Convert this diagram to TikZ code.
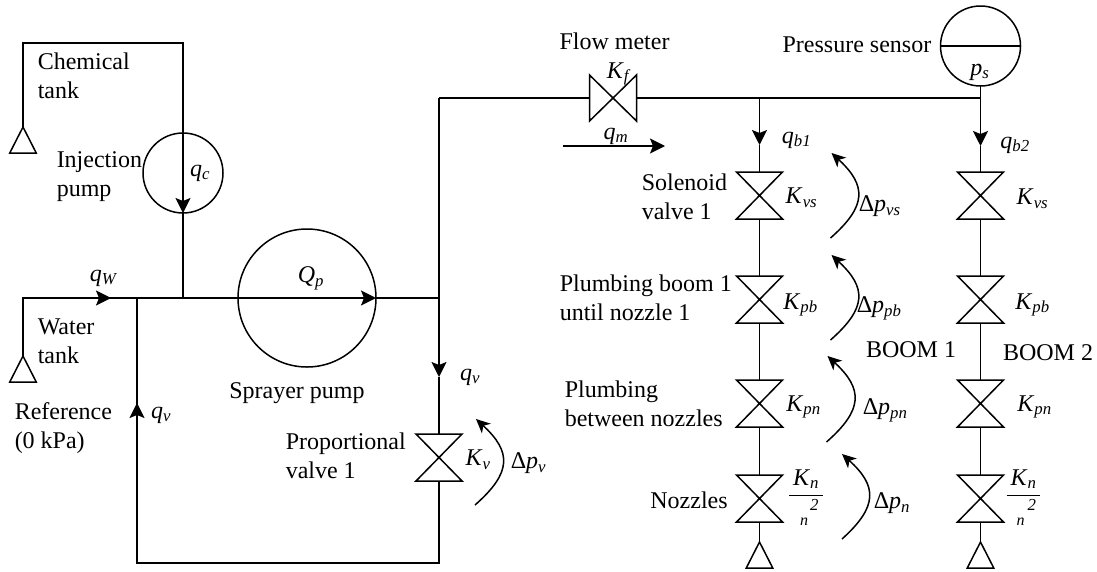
\documentclass[tikz,border=0pt]{standalone}
\usepackage{amsmath}
\usepackage{fontspec}
\setmainfont{Liberation Serif}
\usetikzlibrary{shapes.geometric,arrows.meta}
\newcommand{\lbl}[2]{\textit{#1}$_{\text{\itshape #2}}$}
\newcommand{\halfk}{$\dfrac{\hspace{4pt}\text{\lbl{K}{n}}\hspace{4pt}}{\hspace{0.7em}\smash{\raisebox{8.5pt}{$\scriptstyle\text{\itshape 2}$}}}$}
\newcommand{\valve}[3][]{%
  \node[valvebox,#1] (#2) at (#3) {};
  \draw (#2.north west) -- (#2.south east) -- (#2.south west) -- (#2.north east) -- cycle;}
\tikzset{
  valvebox/.style={rectangle,minimum width=46,minimum height=47,inner sep=0,outer sep=0},
  pumpbox/.style={circle,draw,inner sep=0,outer sep=0},
  groundbox/.style={isosceles triangle,isosceles triangle apex angle=54,shape border rotate=90,draw,
    minimum height=26,inner sep=0,outer sep=0,anchor=apex},
  flowarrow/.style={-{Stealth[length=15pt,width=15pt,inset=3pt]}},
  droparrow/.style={-{Stealth[length=14pt,width=13pt,inset=4pt]},bend right=48,looseness=1.45},
  txt/.style={align=left,anchor=west}
}
\begin{document}
\begin{tikzpicture}[x=1pt,y=-1pt,line width=1.5pt,every node/.style={inner sep=0,font=\fontsize{24}{29}\selectfont}]
  \useasboundingbox (0,0) rectangle (1097,571);
  % chemical line
  \node[groundbox] (gchem) at (23,127) {};
  \coordinate (ctop) at (183,43);
  \node[pumpbox,minimum size=80] (inj) at (183,173) {};
  \coordinate (jinj) at (183,298);
  \draw (gchem.apex) |- (ctop) -- (inj.north);
  \draw[flowarrow] (inj.north) -- (inj.south);
  \draw (inj.south) -- (jinj);
  \node[txt] (chem) at (37,76) {Chemical\\tank};
  \node[txt] (injl) at (56,177) {Injection\\pump};
  \node (qc) at (200,173) {\lbl{q}{c}};
  % water line and pump
  \node[groundbox] (gwater) at (23,356) {};
  \coordinate (jret) at (137,298);
  \coordinate (qwa) at (80,298);
  \coordinate (qwb) at (111,298);
  \coordinate (jv) at (439,298);
  \node[pumpbox,minimum size=138] (pump) at (307,298) {};
  \draw (gwater.apex) |- (jret) -- (pump.west);
  \draw[flowarrow] (qwa) -- (qwb);
  \draw[flowarrow] (pump.west) -- (pump.east);
  \draw (pump.east) -- (jv);
  \node (qw) at (103,278) {\lbl{q}{W}};
  \node (qp) at (311,278) {\lbl{Q}{p}};
  \node[txt] (water) at (37,341) {Water\\tank};
  \node[txt] (ref) at (14,428) {Reference\\(0 kPa)};
  \node (sprayer) at (297,393) {Sprayer pump};
  % return branch
  \coordinate (jtop) at (439,98);
  \coordinate (qvtip) at (439,377);
  \coordinate (rcorner) at (439,563);
  \coordinate (lcorner) at (137,563);
  \coordinate (rettip) at (137,403);
  \valve{pv}{439,457.5}
  \draw (jtop) -- (jv);
  \draw[flowarrow] (jv) -- (qvtip);
  \draw (qvtip) -- (pv.north);
  \draw (pv.south) -- (rcorner) -- (lcorner) -- (rettip);
  \draw[flowarrow] (lcorner) -- (rettip);
  \draw (rettip) -- (jret);
  \node (qvr) at (470,377) {\lbl{q}{v}};
  \node (qvl) at (161,415) {\lbl{q}{v}};
  \node[txt] (prop) at (285,456) {Proportional\\valve 1};
  \node (kv) at (478,460) {\lbl{K}{v}};
  \node[anchor=west] (dpv) at (510,463) {Δ\lbl{p}{v}};
  \coordinate (dva) at (475,505);
  \coordinate (dvb) at (476,419);
  \draw[droparrow] (dva) to (dvb);
  % flow meter and sensor
  \valve[rotate=90]{fm}{613,98}
  \node[pumpbox,minimum size=80] (sensor) at (980.5,46) {};
  \coordinate (jb1) at (759.5,98);
  \coordinate (jb2) at (980.5,98);
  \draw (jtop) -- (fm.north);
  \draw (fm.south) -- (jb2) -- (sensor.south);
  \draw (sensor.west) -- (sensor.east);
  \coordinate (qma) at (563,146);
  \coordinate (qmb) at (665,146);
  \draw[flowarrow] (qma) -- (qmb);
  \node (fml) at (614.5,41) {Flow meter};
  \node (kf) at (618,74) {\lbl{K}{f}};
  \node (qm) at (616,136) {\lbl{q}{m}};
  \node[anchor=east] (psl) at (932,45) {Pressure sensor};
  \node (ps) at (980,72) {\lbl{p}{s}};
  % boom 1
  \coordinate (tipa) at (759.5,145);
  \valve{vsa}{759.5,195.5}
  \valve{pba}{759.5,299.5}
  \valve{pna}{759.5,403.5}
  \valve{nza}{759.5,498.5}
  \node[groundbox] (ga) at (759.5,542) {};
  \draw[flowarrow] (jb1) -- (tipa);
  \draw (tipa) -- (vsa.north);
  \draw (vsa.south) -- (pba.north);
  \draw (pba.south) -- (pna.north);
  \draw (pna.south) -- (nza.north);
  \draw (nza.south) -- (ga.apex);
  \node (qba) at (796.5,140) {\lbl{q}{b1}};
  \node (kvsa) at (801.5,198) {\lbl{K}{vs}};
  \node (kpba) at (800.5,305) {\lbl{K}{pb}};
  \node (kpna) at (803.5,407) {\lbl{K}{pn}};
  \node[anchor=base] (kna) at (806,502) {\halfk};
  \node[font=\fontsize{16}{18}\selectfont\itshape] (na) at (804,522) {n};
  \node[txt] (sol) at (641,197) {Solenoid\\valve 1};
  \node[txt] (until) at (559,298) {Plumbing boom 1\\until nozzle 1};
  \node[txt] (betw) at (564,404) {Plumbing\\between nozzles};
  \node (noz) at (689,500) {Nozzles};
  % pressure drops
  \coordinate (dvsa) at (830.5,238);
  \coordinate (dvsb) at (831.5,153);
  \coordinate (dpba) at (830.5,340);
  \coordinate (dpbb) at (831.5,255);
  \coordinate (dpna) at (826.5,442);
  \coordinate (dpnb) at (827.5,356);
  \coordinate (dnza) at (842,539);
  \coordinate (dnzb) at (842,454);
  \draw[droparrow] (dvsa) to (dvsb);
  \draw[droparrow] (dpba) to (dpbb);
  \draw[droparrow] (dpna) to (dpnb);
  \draw[droparrow] (dnza) to (dnzb);
  \node[anchor=west] (dpvs) at (858,206) {Δ\lbl{p}{vs}};
  \node[anchor=west] (dppb) at (856,308) {Δ\lbl{p}{pb}};
  \node[anchor=west] (dppn) at (862,410) {Δ\lbl{p}{pn}};
  \node[anchor=west] (dpn) at (873,503) {Δ\lbl{p}{n}};
  \node (booma) at (911,350) {BOOM 1};
  % boom 2
  \coordinate (tipb) at (980.5,146);
  \valve{vsb}{980.5,195.5}
  \valve{pbb}{980.5,299.5}
  \valve{pnb}{980.5,403.5}
  \valve{nzb}{980.5,498.5}
  \node[groundbox] (gb) at (980.5,542) {};
  \draw[flowarrow] (jb2) -- (tipb);
  \draw (tipb) -- (vsb.north);
  \draw (vsb.south) -- (pbb.north);
  \draw (pbb.south) -- (pnb.north);
  \draw (pnb.south) -- (nzb.north);
  \draw (nzb.south) -- (gb.apex);
  \node (qbb) at (1015,145) {\lbl{q}{b2}};
  \node (kvsb) at (1032.5,199) {\lbl{K}{vs}};
  \node (kpbb) at (1032.5,305) {\lbl{K}{pb}};
  \node (kpnb) at (1034.5,407) {\lbl{K}{pn}};
  \node[anchor=base] (knb) at (1023.5,502) {\halfk};
  \node[font=\fontsize{16}{18}\selectfont\itshape] (nb) at (1020.5,522) {n};
  \node (boomb) at (1048,353) {BOOM 2};
\end{tikzpicture}
\end{document}
